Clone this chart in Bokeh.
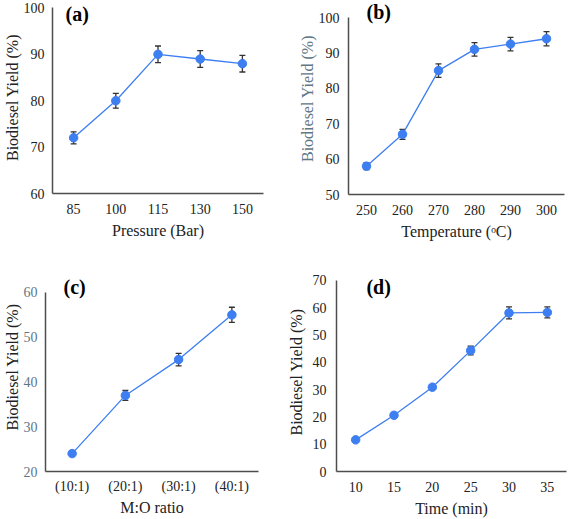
from bokeh.plotting import figure
from bokeh.layouts import column, row
from bokeh.models import ColumnDataSource, Whisker, TeeHead, FixedTicker, Label, FactorRange, Range1d
from bokeh.embed import file_html
from bokeh.resources import INLINE

# ---- data ----
pressure = ["85", "100", "115", "130", "150"]
yield_a = [72, 80, 90, 89, 88]
err_a = [1.3, 1.6, 1.8, 1.8, 1.8]

temperature = ["250", "260", "270", "280", "290", "300"]
yield_b = [58, 67, 85, 91, 92.5, 94]
err_b = [1.0, 1.4, 1.9, 1.9, 1.9, 2.0]

ratio = ["(10:1)", "(20:1)", "(30:1)", "(40:1)"]
yield_c = [24, 37, 45, 55]
err_c = [0.6, 1.1, 1.4, 1.7]

time_min = ["10", "15", "20", "25", "30", "35"]
yield_d = [11.6, 20.6, 30.9, 44.3, 58.1, 58.3]
err_d = [0.3, 0.4, 0.5, 1.6, 2.2, 2.0]

yticks_a = [60, 70, 80, 90, 100]
yticks_b = [50, 60, 70, 80, 90, 100]
yticks_c = [20, 30, 40, 50, 60]
yticks_d = [0, 10, 20, 30, 40, 50, 60, 70]

BLUE = "#3d7ef0"
SLATE = "#5e7686"
DARK = "#222222"
FONT = "'Liberation Serif'"


def panel(cats, ys, errs, yticks, ytop, xlabel, tag, w, h, borders,
          ystand, xstand, ytitle_color=DARK, ytick_color=DARK, tag_pos=(0.3, 99)):
    left, right, top, bottom = borders
    p = figure(x_range=FactorRange(*cats, range_padding=0),
               y_range=Range1d(yticks[0], ytop),
               width=w, height=h, output_backend="svg", toolbar_location=None,
               min_border_left=left, min_border_right=right,
               min_border_top=top, min_border_bottom=bottom)
    p.outline_line_color = None
    p.border_fill_color = "white"
    p.background_fill_color = "white"
    p.xgrid.visible = False
    p.ygrid.visible = False
    src = ColumnDataSource(dict(x=cats, y=ys,
                                lo=[a - b for a, b in zip(ys, errs)],
                                hi=[a + b for a, b in zip(ys, errs)]))
    p.line("x", "y", source=src, line_color=BLUE, line_width=1.3)
    wh = Whisker(base="x", lower="lo", upper="hi", source=src, dimension="height",
                 line_color="#333333", line_width=1.3,
                 upper_head=TeeHead(size=6, line_color="#333333", line_width=1.3),
                 lower_head=TeeHead(size=6, line_color="#333333", line_width=1.3))
    p.add_layout(wh)
    p.scatter("x", "y", source=src, size=8.5, fill_color=BLUE, line_color=BLUE)

    for ax in (p.xaxis[0], p.yaxis[0]):
        ax.axis_line_color = "#4d4d4d"
        ax.axis_line_width = 1.5
        ax.major_tick_out = 0
        ax.major_tick_in = 0
        ax.minor_tick_out = 0
        ax.minor_tick_in = 0
        ax.major_label_text_font = FONT
        ax.major_label_text_font_size = "14px"
        ax.axis_label_text_font = FONT
        ax.axis_label_text_font_size = "16px"
        ax.axis_label_text_font_style = "normal"
    p.xaxis.major_label_text_color = DARK
    p.xaxis.axis_label = xlabel
    p.xaxis.axis_label_text_color = DARK
    p.xaxis.major_label_standoff = xstand[0]
    p.xaxis.axis_label_standoff = xstand[1]

    p.yaxis.ticker = FixedTicker(ticks=yticks)
    p.yaxis.bounds = (yticks[0], yticks[-1])
    p.yaxis.major_label_text_color = ytick_color
    p.yaxis.axis_label = "Biodiesel Yield (%)"
    p.yaxis.axis_label_text_color = ytitle_color
    p.yaxis.major_label_standoff = ystand[0]
    p.yaxis.axis_label_standoff = ystand[1]

    p.add_layout(Label(x=tag_pos[0], y=tag_pos[1], text=tag, text_font=FONT,
                       text_font_style="bold", text_font_size="20px",
                       text_baseline="middle", text_align="left", text_color="black"))
    return p


pa = panel(pressure, yield_a, err_a, yticks_a, 101.4, "Pressure (Bar)", "(a)",
           284, 260, (52, 21, 1, 67), (8, 0), (10, 5), tag_pos=(0.31, 98.7))
pb = panel(temperature, yield_b, err_b, yticks_b, 104.24, "Temperature (\u1d52C)", "(b)",
           284, 260, (64, 4, 2, 66), (9, 0), (10, 5), ytitle_color=SLATE,
           tag_pos=(0.50, 101.55))
pc = panel(ratio, yield_c, err_c, yticks_c, 66.70, "M:O ratio", "(c)",
           284, 259, (45, 26, 2, 48), (8, 0), (7, 2), ytick_color=SLATE,
           tag_pos=(0.338, 61.23))
pd = panel(time_min, yield_d, err_d, yticks_d, 72.92, "Time (min)", "(d)",
           284, 259, (52, 2, 12, 47), (10, 5), (10, 5), tag_pos=(0.78, 67.6))

layout = column(row(column(pa), column(pb)), row(column(pc), column(pd)))
open("out.html", "w").write(file_html(layout, INLINE))
